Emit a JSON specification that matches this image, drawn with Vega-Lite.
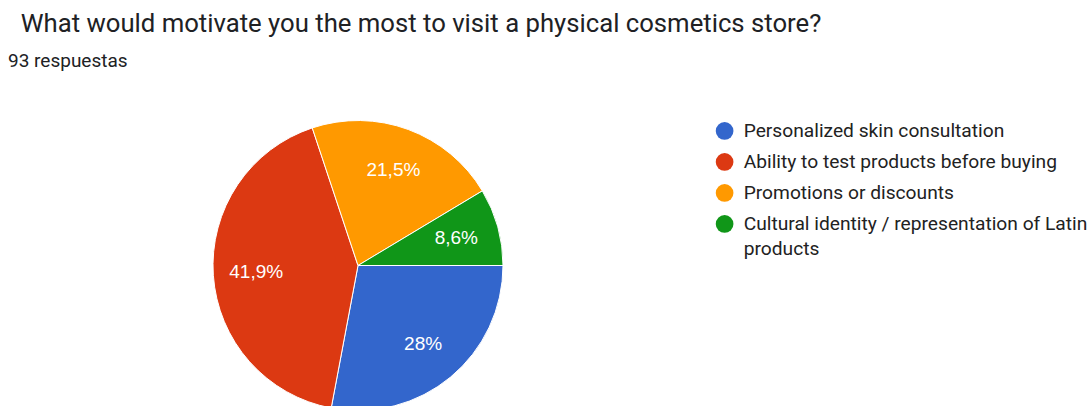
{
  "$schema": "https://vega.github.io/schema/vega-lite/v6.json",
  "width": 716,
  "height": 369,
  "padding": {"left": 0, "top": 11, "right": 0, "bottom": 0},
  "background": "white",
  "title": {
    "text": "\u200b\u00a0\u00a0What would motivate you the most to visit a physical cosmetics store?",
    "subtitle": "93 respuestas",
    "anchor": "start",
    "frame": "group",
    "dx": 8,
    "font": "Roboto",
    "fontSize": 25.7,
    "fontWeight": "normal",
    "color": "#202124",
    "subtitleFont": "Roboto",
    "subtitleFontSize": 19,
    "subtitleColor": "#202124",
    "subtitlePadding": 13.5,
    "offset": 9.5
  },
  "data": {
    "values": [
      {"option": "Personalized skin consultation", "count": 26, "pct": "28%", "rank": 1},
      {"option": "Ability to test products before buying", "count": 39, "pct": "41,9%", "rank": 2},
      {"option": "Promotions or discounts", "count": 20, "pct": "21,5%", "rank": 3},
      {"option": "Cultural identity / representation of Latin products", "count": 8, "pct": "8,6%", "rank": 4}
    ]
  },
  "encoding": {
    "theta": {"field": "count", "type": "quantitative", "stack": true, "scale": {"range": [1.5707963, 7.8539816]}},
    "order": {"field": "rank", "type": "quantitative"},
    "color": {
      "field": "option",
      "type": "nominal",
      "scale": {
        "domain": ["Personalized skin consultation", "Ability to test products before buying", "Promotions or discounts", "Cultural identity / representation of Latin products"],
        "range": ["#3366cc", "#dc3912", "#ff9900", "#109618"]
      },
      "legend": {
        "orient": "none",
        "legendX": 715,
        "legendY": 40.3,
        "title": null,
        "padding": 0,
        "labelFont": "Roboto",
        "labelFontSize": 19.2,
        "labelColor": "#222222",
        "labelOffset": 9.5,
        "labelLimit": 500,
        "symbolType": "circle",
        "symbolSize": 314,
        "symbolStrokeWidth": 0,
        "rowPadding": 11,
        "labelExpr": "datum.label == 'Cultural identity / representation of Latin products' ? ['Cultural identity / representation of Latin', 'products'] : datum.label",
        "encode": {
          "labels": {
            "update": {
              "lineHeight": {"signal": "25"},
              "dy": {"signal": "datum.value == 'Cultural identity / representation of Latin products' ? 12.5 : 0"}
            }
          }
        }
      }
    }
  },
  "layer": [
    {"mark": {"type": "arc", "outerRadius": 145, "stroke": "white", "strokeWidth": 1}},
    {
      "mark": {"type": "text", "radius": 102, "fontSize": 19, "font": "Liberation Sans"},
      "encoding": {
        "text": {"field": "pct", "type": "nominal"},
        "color": {"value": "white"},
        "detail": {"field": "option", "type": "nominal"}
      }
    }
  ],
  "config": {"view": {"stroke": null}, "style": {"guide-label": {"lineHeight": 25}}}
}
